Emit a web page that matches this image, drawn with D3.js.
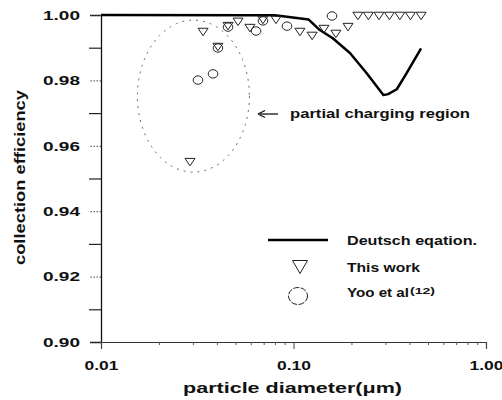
<!DOCTYPE html>
<html><head><meta charset="utf-8">
<script src="https://cdn.jsdelivr.net/npm/d3@7/dist/d3.min.js"></script>
<style>body{margin:0;background:#fff}svg{display:block}text{font-family:"Liberation Sans",Arial,sans-serif;font-weight:bold;fill:#111}</style>
</head><body><svg id="c" width="502" height="400"></svg>
<script>
// Data
const deutschX = [0.01, 0.06, 0.080, 0.120, 0.137, 0.160, 0.197, 0.240, 0.293, 0.310, 0.344, 0.387, 0.460];
const deutschY = [1.0000, 0.99995, 0.9999, 0.9986, 0.9954, 0.9929, 0.9883, 0.9822, 0.9755, 0.9758, 0.9773, 0.9822, 0.9898];
const thisWorkX = [0.029, 0.0339, 0.0405, 0.0457, 0.0515, 0.0594, 0.0694, 0.0811, 0.108, 0.125, 0.144, 0.166, 0.192, 0.216, 0.245, 0.278, 0.315, 0.357, 0.405, 0.460];
const thisWorkY = [0.9550, 0.9948, 0.9902, 0.9966, 0.9979, 0.9960, 0.9985, 0.9985, 0.9948, 0.9936, 0.9957, 0.9942, 0.9963, 0.9997, 0.9997, 0.9997, 0.9997, 0.9997, 0.9997, 0.9997];
const yooX = [0.0319, 0.0382, 0.0405, 0.0457, 0.0639, 0.0694, 0.0925, 0.1585];
const yooY = [0.9801, 0.9820, 0.9899, 0.9963, 0.9951, 0.9982, 0.9966, 0.9997];
const yMajor = [0.90, 0.92, 0.94, 0.96, 0.98, 1.00];
const yMinor = [0.91, 0.93, 0.95, 0.97, 0.99];
const xMajor = [0.01, 0.1, 1];
const xMinor = [0.02,0.03,0.04,0.05,0.06,0.07,0.08,0.09,0.2,0.3,0.4,0.5,0.6,0.7,0.8,0.9];
const regionX = [0.0302];   // centre of the partial charging ellipse
const regionY = [0.9752];

const svg = d3.select("#c");
const x = d3.scaleLog().domain([0.01, 1]).range([101, 486]);
const y = d3.scaleLinear().domain([0.90, 1.00]).range([342, 15]);

// y axis
const gy = svg.append("g").attr("transform", "translate(101,0)");
gy.call(d3.axisLeft(y).tickValues(yMajor).tickSize(11).tickPadding(10).tickFormat(d3.format(".2f")));
gy.select(".domain").attr("stroke", "#111").attr("stroke-width", 1.3);
gy.selectAll(".tick line").attr("stroke", "#444").attr("stroke-dasharray", "1.5,1.5");
gy.selectAll(".tick text").attr("font-size", 13.5).attr("fill", "#111")
  .attr("textLength", 37).attr("lengthAdjust", "spacingAndGlyphs").attr("x", -21);
const gy2 = svg.append("g").attr("transform", "translate(101,0)");
gy2.call(d3.axisLeft(y).tickValues(yMinor).tickSize(12).tickFormat(""));
gy2.select(".domain").remove();
gy2.selectAll(".tick line").attr("stroke", "#222").attr("stroke-width", 1.2);

// x axis
const gx = svg.append("g").attr("transform", "translate(0,342)");
gx.call(d3.axisBottom(x).tickValues(xMajor).tickSize(7).tickPadding(11).tickFormat(d3.format(".2f")));
gx.select(".domain").attr("stroke", "#333").attr("stroke-width", 1.2);
gx.selectAll(".tick line").attr("stroke", "#444");
gx.selectAll(".tick text").attr("font-size", 13.5).attr("fill", "#111")
  .attr("textLength", 34).attr("lengthAdjust", "spacingAndGlyphs");
const gx2 = svg.append("g").attr("transform", "translate(0,342)");
gx2.call(d3.axisBottom(x).tickValues(xMinor).tickSize(3).tickFormat(""));
gx2.select(".domain").remove();
gx2.selectAll(".tick line").attr("stroke", "#555");

// partial charging region ellipse
svg.append("ellipse")
  .attr("cx", x(regionX[0])).attr("cy", y(regionY[0]))
  .attr("rx", 56).attr("ry", 76)
  .attr("fill", "none").attr("stroke", "#666").attr("stroke-width", 1)
  .attr("stroke-dasharray", "2,5");

// Deutsch line
const deutsch = deutschX.map((d, i) => [d, deutschY[i]]);
svg.append("path").datum(deutsch)
  .attr("d", d3.line().x(d => x(d[0])).y(d => y(d[1])))
  .attr("fill", "none").attr("stroke", "#000").attr("stroke-width", 2.5)
  .attr("stroke-linejoin", "round");

// Markers
function tri(w, h) { return `M${-w/2},${-h/2}L${w/2},${-h/2}L0,${h/2}Z`; }
svg.append("g").selectAll("path").data(thisWorkX.map((d, i) => [d, thisWorkY[i]]))
  .join("path")
  .attr("d", tri(10, 7.5))
  .attr("transform", d => `translate(${x(d[0])},${y(d[1])})`)
  .attr("fill", "none").attr("stroke", "#222").attr("stroke-width", 1);
svg.append("g").selectAll("ellipse").data(yooX.map((d, i) => [d, yooY[i]]))
  .join("ellipse")
  .attr("cx", d => x(d[0])).attr("cy", d => y(d[1]))
  .attr("rx", 4.8).attr("ry", 4.2)
  .attr("fill", "none").attr("stroke", "#222").attr("stroke-width", 1);

// Annotation
svg.append("line").attr("x1", 260).attr("x2", 278).attr("y1", 114).attr("y2", 114)
  .attr("stroke", "#111").attr("stroke-width", 1.3);
svg.append("path").attr("d", "M258,114L265,110.5M258,114L265,117.5")
  .attr("stroke", "#111").attr("stroke-width", 1.3).attr("fill", "none");
svg.append("text").attr("x", 290).attr("y", 118).attr("font-size", 12.5)
  .attr("textLength", 180).attr("lengthAdjust", "spacingAndGlyphs")
  .text("partial charging region");

// Legend
svg.append("line").attr("x1", 268).attr("x2", 328).attr("y1", 240).attr("y2", 240)
  .attr("stroke", "#000").attr("stroke-width", 2.5);
svg.append("text").attr("x", 347).attr("y", 245).attr("font-size", 12.5)
  .attr("textLength", 130).attr("lengthAdjust", "spacingAndGlyphs").text("Deutsch eqation.");
svg.append("path").attr("d", tri(15, 13)).attr("transform", "translate(300,267)")
  .attr("fill", "none").attr("stroke", "#222").attr("stroke-width", 1);
svg.append("text").attr("x", 347).attr("y", 272).attr("font-size", 12.5)
  .attr("textLength", 73).attr("lengthAdjust", "spacingAndGlyphs").text("This work");
svg.append("ellipse").attr("cx", 298).attr("cy", 296).attr("rx", 9.5).attr("ry", 8.5)
  .attr("fill", "none").attr("stroke", "#222").attr("stroke-width", 1).attr("stroke-dasharray", "6,1.5");
svg.append("text").attr("x", 347).attr("y", 297).attr("font-size", 12.5)
  .attr("textLength", 62).attr("lengthAdjust", "spacingAndGlyphs").text("Yoo et al");
svg.append("text").attr("x", 410).attr("y", 294).attr("font-size", 8.5)
  .attr("textLength", 25).attr("lengthAdjust", "spacingAndGlyphs").text("(12)");

// Axis titles
svg.append("text").attr("transform", "translate(25,177.5) rotate(-90)")
  .attr("text-anchor", "middle").attr("font-size", 14.5)
  .attr("textLength", 175).attr("lengthAdjust", "spacingAndGlyphs")
  .text("collection efficiency");
svg.append("text").attr("x", 292.5).attr("y", 393).attr("text-anchor", "middle")
  .attr("font-size", 15).attr("textLength", 219).attr("lengthAdjust", "spacingAndGlyphs")
  .text("particle diameter(μm)");
</script></body></html>
